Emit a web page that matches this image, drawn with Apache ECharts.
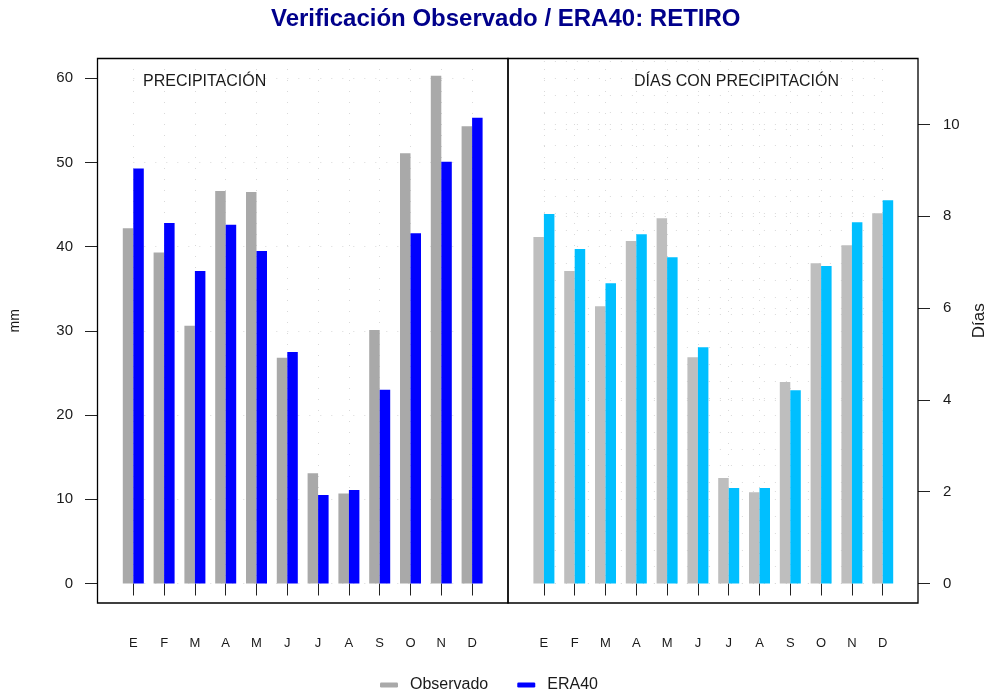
<!DOCTYPE html>
<html>
<head>
<meta charset="utf-8">
<script src="https://cdn.jsdelivr.net/npm/echarts@6/dist/echarts.min.js"></script>
<style>
html,body{margin:0;padding:0;background:#fff;}
#chart{width:988px;height:695px;}
</style>
</head>
<body>
<div id="chart"></div>
<script>
const months = ['E','F','M','A','M','J','J','A','S','O','N','D'];
const precipObs = [42.2,39.3,30.6,46.6,46.5,26.8,13.1,10.7,30.1,51.1,60.3,54.3];
const precipEra = [49.3,42.8,37.1,42.6,39.5,27.5,10.5,11.1,23.0,41.6,50.1,55.3];
const daysObs = [7.55,6.81,6.04,7.46,7.96,4.93,2.30,1.99,4.39,6.98,7.37,8.07];
const daysEra = [8.05,7.29,6.54,7.61,7.11,5.15,2.08,2.08,4.21,6.92,7.87,8.35];
const mmTicks = [0,10,20,30,40,50,60];
const dayTicks = [0,2,4,6,8,10];

const FONT = "'Liberation Sans', Arial, Helvetica, sans-serif";
const TXT = '#1a1a1a';
const gridDot = {color:'#d9d9d9', type:[1,10], width:1};

const chart = echarts.init(document.getElementById('chart'), null, {renderer:'canvas'});

function xAx(gi){
  return {
    type:'category', gridIndex:gi, data:months, boundaryGap:false,
    offset:19.5,
    axisLine:{show:false},
    axisTick:{show:true, length:12, lineStyle:{color:'#222', width:1}},
    axisLabel:{interval:0, margin:34, fontSize:13, color:TXT, fontFamily:FONT},
    splitLine:{show:true, lineStyle:gridDot}
  };
}

const option = {
  backgroundColor:'#fff',
  animation:false,
  title:[
    {text:'Verificación Observado / ERA40: RETIRO', left:271, top:7, padding:0,
     textStyle:{fontFamily:FONT, fontWeight:'bold', fontSize:24, color:'#00008B'}},
    {text:'PRECIPITACIÓN', left:143, top:74, padding:0,
     textStyle:{fontFamily:FONT, fontWeight:'normal', fontSize:16, color:TXT}},
    {text:'DÍAS CON PRECIPITACIÓN', left:634, top:74, padding:0,
     textStyle:{fontFamily:FONT, fontWeight:'normal', fontSize:16, color:TXT}}
  ],
  legend:{
    left:380, top:677, padding:0, itemWidth:18, itemHeight:5, itemGap:29,
    icon:'roundRect',
    data:['Observado','ERA40'],
    textStyle:{fontFamily:FONT, fontSize:16, color:TXT, padding:[0,0,0,7]}
  },
  grid:[
    {left:133.3, top:58, width:338.8, height:525.5, containLabel:false, outerBoundsMode:'none'},
    {left:543.9, top:58, width:338.8, height:525.5, containLabel:false, outerBoundsMode:'none'}
  ],
  xAxis:[xAx(0), xAx(1)],
  yAxis:[
    {type:'value', gridIndex:0, min:0, max:62.41, interval:2, offset:36.3, position:'left',
     name:'mm', nameLocation:'middle', nameGap:75, nameRotate:90,
     nameTextStyle:{fontFamily:FONT, fontSize:14, color:TXT},
     axisLine:{show:false},
     axisTick:{show:true, length:12, customValues:mmTicks, lineStyle:{color:'#222'}},
     axisLabel:{customValues:mmTicks, margin:24, fontSize:15, color:TXT, fontFamily:FONT},
     splitLine:{show:true, lineStyle:gridDot}},
    {type:'value', gridIndex:1, min:0, max:11.45, interval:2, offset:35.3, position:'right',
     name:'Días', nameLocation:'middle', nameGap:53, nameRotate:90,
     nameTextStyle:{fontFamily:FONT, fontSize:17, color:TXT},
     axisLine:{show:false},
     axisTick:{show:true, length:12, customValues:dayTicks, lineStyle:{color:'#222'}},
     axisLabel:{customValues:dayTicks, margin:25, fontSize:15, color:TXT, fontFamily:FONT},
     splitLine:{show:true, lineStyle:gridDot}},
    {type:'value', gridIndex:1, min:0, max:62.41, interval:2, position:'left', show:true,
     axisLine:{show:false}, axisTick:{show:false}, axisLabel:{show:false},
     splitLine:{show:true, lineStyle:gridDot}}
  ],
  series:[
    {name:'Observado', type:'bar', xAxisIndex:0, yAxisIndex:0, data:precipObs,
     barWidth:10.5, barGap:'0%', clip:false, itemStyle:{color:'#A9A9A9'}},
    {name:'ERA40', type:'bar', xAxisIndex:0, yAxisIndex:0, data:precipEra,
     barWidth:10.5, barGap:'0%', clip:false, itemStyle:{color:'#0000FF'}},
    {name:'Observado', type:'bar', xAxisIndex:1, yAxisIndex:1, data:daysObs,
     barWidth:10.5, barGap:'0%', clip:false, itemStyle:{color:'#BEBEBE'}},
    {name:'ERA40', type:'bar', xAxisIndex:1, yAxisIndex:1, data:daysEra,
     barWidth:10.5, barGap:'0%', clip:false, itemStyle:{color:'#00BFFF'}}
  ],
  graphic:[
    {type:'rect', shape:{x:97.5, y:58.5, width:410.5, height:544.5}, z:100,
     style:{fill:null, stroke:'#000', lineWidth:1.3}},
    {type:'rect', shape:{x:508, y:58.5, width:410, height:544.5}, z:100,
     style:{fill:null, stroke:'#000', lineWidth:1.3}}
  ]
};
chart.setOption(option);
</script>
</body>
</html>
